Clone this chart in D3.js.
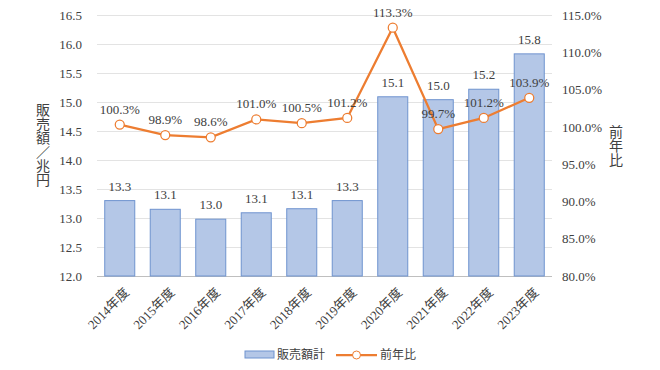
<!DOCTYPE html>
<html>
<head>
<meta charset="utf-8">
<script src="https://cdn.jsdelivr.net/npm/d3@7"></script>
<style>
  body { margin: 0; background: #fff; }
  text { font-family: "Liberation Serif", "Noto Sans CJK JP", serif; fill: #404040; }
  .jp { font-family: "Noto Sans CJK JP", sans-serif; }
</style>
</head>
<body>
<div id="chart"></div>
<script>
// data
var years = ["2014年度", "2015年度", "2016年度", "2017年度", "2018年度", "2019年度", "2020年度", "2021年度", "2022年度", "2023年度"]
var sales = [13.3, 13.15, 12.98, 13.09, 13.16, 13.3, 15.09, 15.04, 15.22, 15.83]
var salesLabels = ["13.3", "13.1", "13.0", "13.1", "13.1", "13.3", "15.1", "15.0", "15.2", "15.8"]
var ratio = [100.3, 98.9, 98.6, 101.0, 100.5, 101.2, 113.3, 99.7, 101.2, 103.9]
var leftTicks = [12.0, 12.5, 13.0, 13.5, 14.0, 14.5, 15.0, 15.5, 16.0, 16.5]
var rightTicks = [80, 85, 90, 95, 100, 105, 110, 115]

var W = 660, H = 370
var margin = {top: 15, right: 108, bottom: 94, left: 97}
var width = W - margin.left - margin.right
var height = H - margin.top - margin.bottom

var svg = d3.select("#chart").append("svg")
    .attr("width", W)
    .attr("height", H)
var g = svg.append("g")
    .attr("transform", "translate(" + margin.left + "," + margin.top + ")")

var x = d3.scaleBand().domain(years).range([0, width]).paddingInner(0.34).paddingOuter(0.17)
var yL = d3.scaleLinear().domain([12, 16.5]).range([height, 0])
var yR = d3.scaleLinear().domain([80, 115]).range([height, 0])

// gridlines
g.append("g").selectAll("line").data(leftTicks).enter().append("line")
  .attr("x1", 0).attr("x2", width)
  .attr("y1", function(d){ return Math.round(yL(d)) + 0.5 })
  .attr("y2", function(d){ return Math.round(yL(d)) + 0.5 })
  .attr("stroke", function(d){ return d == 12 ? "#bfbfbf" : "#e3e3e3" })
  .attr("stroke-width", 1)

// left axis labels
var axL = g.append("g").call(d3.axisLeft(yL).tickValues(leftTicks).tickFormat(d3.format(".1f")).tickSize(0).tickPadding(15))
axL.select(".domain").remove()
axL.selectAll("text").style("font-size", "13px").attr("fill", "#404040").style("font-family", "Liberation Serif, serif")

// right axis labels
var axR = g.append("g").attr("transform", "translate(" + width + ",0)")
  .call(d3.axisRight(yR).tickValues(rightTicks).tickFormat(function(d){ return d.toFixed(1) + "%" }).tickSize(0).tickPadding(10))
axR.select(".domain").remove()
axR.selectAll("text").style("font-size", "13px").attr("fill", "#404040").style("font-family", "Liberation Serif, serif")

// bars
g.selectAll(".bar").data(sales).enter().append("rect")
  .attr("class", "bar")
  .attr("x", function(d, i){ return x(years[i]) })
  .attr("y", function(d){ return yL(d) })
  .attr("width", x.bandwidth())
  .attr("height", function(d){ return height - yL(d) })
  .attr("fill", "#b4c7e7")
  .attr("stroke", "#6f93cf")
  .attr("stroke-width", 1)

g.selectAll(".barLabel").data(sales).enter().append("text")
  .attr("x", function(d, i){ return x(years[i]) + x.bandwidth() / 2 })
  .attr("y", function(d){ return yL(d) - 10 })
  .attr("text-anchor", "middle")
  .style("font-size", "13px")
  .text(function(d, i){ return salesLabels[i] })

// line
var line = d3.line()
  .x(function(d, i){ return x(years[i]) + x.bandwidth() / 2 })
  .y(function(d){ return yR(d) })

g.append("path")
  .attr("d", line(ratio))
  .attr("fill", "none")
  .attr("stroke", "#ed7d31")
  .attr("stroke-width", 2.25)

g.selectAll(".pt").data(ratio).enter().append("circle")
  .attr("cx", function(d, i){ return x(years[i]) + x.bandwidth() / 2 })
  .attr("cy", function(d){ return yR(d) })
  .attr("r", 4.5)
  .attr("fill", "#fff")
  .attr("stroke", "#ed7d31")
  .attr("stroke-width", 1.25)

g.selectAll(".ptLabel").data(ratio).enter().append("text")
  .attr("x", function(d, i){ return x(years[i]) + x.bandwidth() / 2 })
  .attr("y", function(d){ return yR(d) - 11 })
  .attr("text-anchor", "middle")
  .style("font-size", "13px")
  .text(function(d){ return d.toFixed(1) + "%" })

// x labels
g.selectAll(".xl").data(years).enter().append("text")
  .attr("transform", function(d){ return "translate(" + (x(d) + x.bandwidth() / 2 + 7) + "," + (height + 14) + ") rotate(-45)" })
  .attr("text-anchor", "end")
  .attr("dy", "0.35em")
  .style("font-size", "13px")
  .text(function(d){ return d })

// axis titles
svg.append("text").attr("class", "jp")
  .attr("x", 43).attr("y", 145)
  .attr("text-anchor", "middle")
  .style("writing-mode", "vertical-rl")
  .style("font-size", "14px")
  .text("販売額／兆円")

svg.append("text").attr("class", "jp")
  .attr("x", 616).attr("y", 146)
  .attr("text-anchor", "middle")
  .style("writing-mode", "vertical-rl")
  .style("font-size", "14px")
  .text("前年比")

// legend
var lg = svg.append("g")
lg.append("rect").attr("x", 245).attr("y", 351).attr("width", 29).attr("height", 7)
  .attr("fill", "#b4c7e7").attr("stroke", "#6f93cf")
lg.append("text").attr("class", "jp").attr("x", 277).attr("y", 355).attr("dy", "0.35em")
  .style("font-size", "12px").text("販売額計")
lg.append("line").attr("x1", 336).attr("x2", 377).attr("y1", 355).attr("y2", 355)
  .attr("stroke", "#ed7d31").attr("stroke-width", 2.25)
lg.append("circle").attr("cx", 356.5).attr("cy", 355).attr("r", 4)
  .attr("fill", "#fff").attr("stroke", "#ed7d31")
lg.append("text").attr("class", "jp").attr("x", 380).attr("y", 355).attr("dy", "0.35em")
  .style("font-size", "12px").text("前年比")
</script>
</body>
</html>
